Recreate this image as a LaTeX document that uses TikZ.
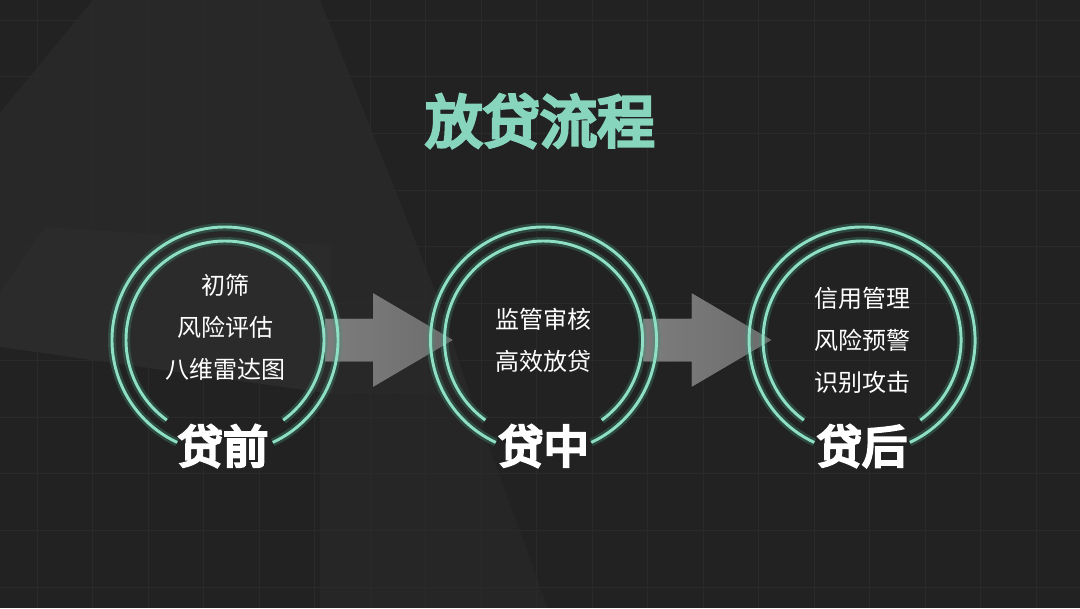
\documentclass[tikz,border=0pt]{standalone}
\usepackage{fontspec}
\newfontfamily\cjk{Noto Sans CJK SC}
\newfontfamily\cjkheavy{Noto Sans CJK SC}[FakeBold=6]
\usetikzlibrary{calc,positioning}

\definecolor{bgdark}{HTML}{222222}
\definecolor{gridline}{HTML}{2A2A2A}
\definecolor{ringcore}{HTML}{8EDFC3}
\definecolor{ringglow}{HTML}{3E8E77}
\definecolor{titlemint}{HTML}{88D5BD}
\definecolor{arrowleft}{HTML}{888888}
\definecolor{arrowright}{HTML}{767676}

% ring pair with a gap at the bottom for the phase label
\newcommand\ringpair[1]{%
  \foreach \r/\g in {113/25, 99/36} {
    \draw[ring halo] ($(#1)+(90+\g:\r)$) arc[start angle=90+\g, end angle=450-\g, radius=\r];
    \draw[ring line] ($(#1)+(90+\g:\r)$) arc[start angle=90+\g, end angle=450-\g, radius=\r];
  }}

% block arrow from one stage towards the next
\newcommand\flowarrow[1]{%
  \fill[arrow body] ($(#1)+(100,-21.5)$) -- ($(#1)+(148,-21.5)$) -- ($(#1)+(148,-47)$)
    -- ($(#1)+(228,0)$) -- ($(#1)+(148,47)$) -- ($(#1)+(148,21.5)$) -- ($(#1)+(100,21.5)$) -- cycle;}

\begin{document}
\begin{tikzpicture}[
  x=0.75pt, y=-0.75pt,
  stage/.style={circle, minimum size=169.5pt, inner sep=0pt},
  ring halo/.style={ringglow, line width=6pt, opacity=0.35},
  ring line/.style={ringcore, line width=2.2pt},
  arrow body/.style={left color=arrowleft, right color=arrowright, fill opacity=0.92},
  items/.style={white, align=center, font=\cjk\fontsize{18}{31.5}\selectfont},
  phase/.style={white, font=\cjkheavy\fontsize{34}{34}\selectfont},
  title/.style={titlemint, font=\cjkheavy\fontsize{43}{43}\selectfont},
  shade/.style={fill=white, fill opacity=0.03}
]
  % background
  \fill[bgdark] (0,0) rectangle (1080,608);
  \useasboundingbox (0,0) rectangle (1080,608);
  \fill[shade] (0,113) -- (93,0) -- (320,0) -- (440,304) -- (470,395) -- (333,394) -- (0,347) -- cycle;
  \fill[shade, fill opacity=0.015] (0,292) -- (45,227) -- (330,245) -- (333,394) -- (0,347) -- cycle;
  \fill[shade, fill opacity=0.02] (320,394) -- (470,395) -- (548,608) -- (320,608) -- cycle;
  \foreach \i in {0,...,18}
    \draw[gridline, line width=0.5pt] ({37+55.5*\i},0) -- ({37+55.5*\i},608);
  \foreach \j in {0,...,10}
    \draw[gridline, line width=0.5pt] (0,{20+56.7*\j}) -- (1080,{20+56.7*\j});

  \node[title] (head) at (540,121) {放贷流程};

  % stages
  \node[stage] (pre) at (225,340) {};
  \node[stage, right=69pt of pre] (mid) {};
  \node[stage, right=69pt of mid] (post) {};

  \flowarrow{pre}
  \flowarrow{mid}

  \ringpair{pre}
  \ringpair{mid}
  \ringpair{post}

  \node[items] (pretext) at ($(pre)+(0,-13)$) {初筛\\风险评估\\八维雷达图};
  \node[items] (midtext) at (mid) {监管审核\\高效放贷};
  \node[items] (posttext) at (post) {信用管理\\风险预警\\识别攻击};

  \node[phase] (prelabel) at ($(pre)+(-2,106)$) {贷前};
  \node[phase] (midlabel) at ($(mid)+(0,106)$) {贷中};
  \node[phase] (postlabel) at ($(post)+(0,106)$) {贷后};
\end{tikzpicture}
\end{document}
